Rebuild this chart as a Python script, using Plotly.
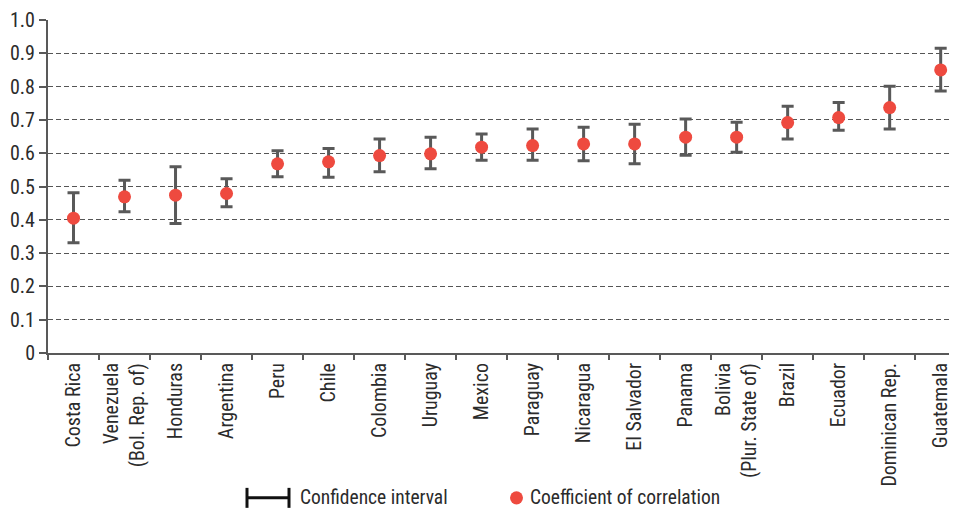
import plotly.graph_objects as go

countries = ["Costa Rica", "Venezuela<br>(Bol. Rep. of)", "Honduras", "Argentina", "Peru", "Chile",
             "Colombia", "Uruguay", "Mexico", "Paraguay", "Nicaragua", "El Salvador", "Panama",
             "Bolivia<br>(Plur. State of)", "Brazil", "Ecuador", "Dominican Rep.", "Guatemala"]
coef = [0.405, 0.469, 0.474, 0.479, 0.568, 0.574, 0.593, 0.598, 0.618, 0.623, 0.628, 0.628,
        0.648, 0.648, 0.692, 0.707, 0.737, 0.850]
ci_upper = [0.481, 0.519, 0.559, 0.523, 0.607, 0.614, 0.643, 0.648, 0.658, 0.673, 0.678, 0.687,
            0.703, 0.693, 0.741, 0.752, 0.801, 0.915]
ci_lower = [0.331, 0.424, 0.389, 0.439, 0.529, 0.528, 0.544, 0.553, 0.579, 0.579, 0.577, 0.568,
            0.594, 0.603, 0.643, 0.669, 0.673, 0.787]
y_ticks = [0, 0.1, 0.2, 0.3, 0.4, 0.5, 0.6, 0.7, 0.8, 0.9, 1.0]
y_tick_labels = ["0", "0.1", "0.2", "0.3", "0.4", "0.5", "0.6", "0.7", "0.8", "0.9", "1.0"]

FONT = "Roboto Condensed, Liberation Sans Narrow, Roboto, sans-serif"
GREY = "#595959"
RED = "#EE4A3F"
TXT = "#2b2b2b"
FS = 20

err_plus = [u - c for u, c in zip(ci_upper, coef)]
err_minus = [c - l for c, l in zip(coef, ci_lower)]

fig = go.Figure()
fig.add_trace(go.Scatter(
    x=countries, y=coef, mode="markers",
    marker=dict(color=RED, size=13, line=dict(width=0)),
    error_y=dict(type="data", symmetric=False, array=err_plus, arrayminus=err_minus,
                 color=GREY, thickness=3, width=6),
    showlegend=False, hoverinfo="x+y",
))

# page has an 8px body margin, so the figure is sized/offset accordingly
fig.update_layout(
    width=949, height=503,
    margin=dict(l=40, r=0, t=12, b=158, pad=0),
    paper_bgcolor="white", plot_bgcolor="white",
    font=dict(family=FONT, size=FS, color=TXT),
    showlegend=False,
    xaxis=dict(
        type="category", range=[-0.5, 17.32], tickangle=-90, automargin=False,
        showgrid=False, showline=True, linecolor=GREY, linewidth=2,
        ticks="outside", tickson="boundaries", ticklen=5, tickwidth=2, tickcolor=GREY,
        tickfont=dict(family=FONT, size=FS, color=TXT),
        zeroline=False,
    ),
    yaxis=dict(
        range=[0, 1.0], tickvals=y_ticks, ticktext=y_tick_labels, automargin=False,
        showgrid=True, gridcolor="#555555", gridwidth=1, griddash="5px,3px",
        showline=True, linecolor=GREY, linewidth=2,
        ticks="outside", ticklen=7, tickwidth=2, tickcolor=GREY,
        tickfont=dict(family=FONT, size=FS, color=TXT),
        zeroline=False,
    ),
)

# legend drawn manually
ly = -0.435
LFS = 19.5
fig.add_shape(type="line", xref="paper", yref="paper", x0=(246 - 48) / 909, x1=(290 - 48) / 909,
              y0=ly, y1=ly, line=dict(color="#111111", width=3))
for xp in (247, 289):
    fig.add_shape(type="line", xref="paper", yref="paper", x0=(xp - 48) / 909, x1=(xp - 48) / 909,
                  y0=ly - 0.03, y1=ly + 0.03, line=dict(color="#111111", width=3))
fig.add_annotation(xref="paper", yref="paper", x=(299 - 48) / 909, y=ly, xanchor="left", yanchor="middle",
                   text="Confidence interval", showarrow=False, borderpad=0,
                   font=dict(family=FONT, size=LFS, color=TXT))
fig.add_shape(type="circle", xref="paper", yref="paper",
              x0=(510 - 48) / 909, x1=(523 - 48) / 909, y0=ly - 0.02, y1=ly + 0.02,
              fillcolor=RED, line=dict(width=0))
fig.add_annotation(xref="paper", yref="paper", x=(529 - 48) / 909, y=ly, xanchor="left", yanchor="middle",
                   text="Coefficient of correlation", showarrow=False, borderpad=0,
                   font=dict(family=FONT, size=LFS, color=TXT))

fig.write_html("out.html")
